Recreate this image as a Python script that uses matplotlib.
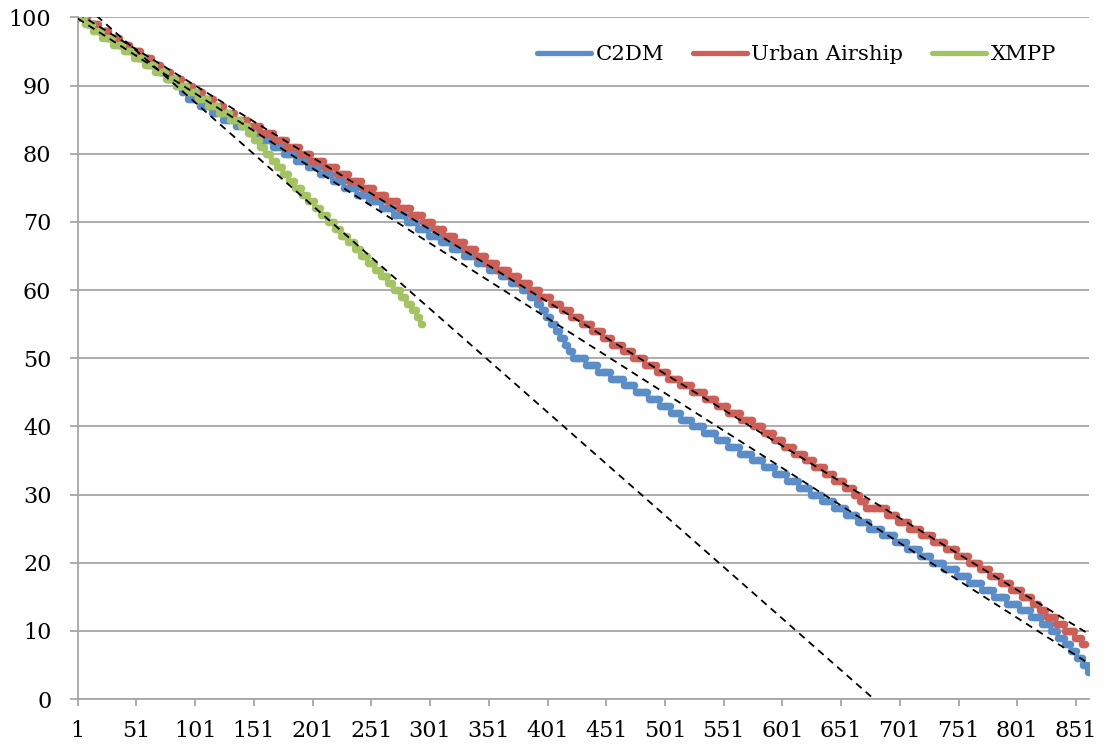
import numpy as np
import matplotlib.pyplot as plt
from matplotlib.lines import Line2D

plt.rcParams['font.family'] = ['DejaVu Serif', 'Liberation Serif']

# index (1-based sample) at which each battery level starts: 100, 99, 98, ...
c2dm_start = [1, 9, 18, 27, 36, 45, 53, 62, 70, 78,
              85, 90, 95, 105, 115, 125, 136, 147, 157, 167,
              177, 187, 197, 207, 218, 228, 239, 249, 260, 270,
              281, 291, 300, 310, 320, 330, 341, 351, 361, 370,
              379, 386, 392, 396, 400, 404, 408, 412, 416, 419,
              423, 434, 444, 455, 466, 476, 487, 497, 506, 515,
              524, 534, 545, 555, 565, 575, 585, 595, 605, 615,
              625, 635, 645, 655, 665, 675, 686, 697, 707, 718,
              728, 739, 750, 760, 771, 781, 792, 803, 813, 822,
              830, 836, 842, 847, 852, 857, 861]
c2dm_last = 862

urban_start = [1, 10, 19, 28, 37, 46, 55, 64, 72, 81,
               90, 99, 108, 117, 126, 135, 146, 157, 168, 179,
               190, 200, 211, 222, 232, 243, 253, 264, 274, 285,
               295, 304, 313, 322, 331, 340, 349, 358, 368, 377,
               386, 395, 404, 413, 421, 430, 439, 448, 456, 465,
               474, 484, 494, 504, 514, 524, 535, 545, 555, 566,
               576, 585, 594, 602, 611, 620, 628, 637, 645, 654,
               662, 667, 672, 690, 699, 709, 719, 729, 740, 750,
               760, 769, 778, 787, 796, 805, 814, 820, 826, 834,
               842, 850, 856]
urban_last = 859

xmpp_start = [1, 7, 14, 22, 31, 40, 49, 58, 67, 76,
              85, 94, 103, 112, 121, 131, 140, 146, 151, 156,
              161, 166, 171, 176, 181, 186, 192, 197, 203, 208,
              214, 220, 225, 231, 237, 242, 248, 254, 259, 265,
              270, 276, 281, 286, 290, 293]
xmpp_last = 294

names = ['C2DM', 'Urban Airship', 'XMPP']
colors = ['#5b8dc8', '#cd5f57', '#a4c362']


def expand(starts, last, top=100):
    x = np.arange(1, last + 1)
    y = top - (np.searchsorted(starts, x, side='right') - 1)
    return x, y


series = [expand(c2dm_start, c2dm_last),
          expand(urban_start, urban_last),
          expand(xmpp_start, xmpp_last)]

fig = plt.figure(figsize=(11.07, 7.46), dpi=100)
ax = fig.add_axes([0.0702, 0.063, 0.9135, 0.9137])

for (x, y), c in zip(series, colors):
    ax.plot(x, y, color=c, lw=3.4, marker='o', ms=5.4, mew=0,
            solid_joinstyle='round', solid_capstyle='round', zorder=3)

# linear trend lines (like Excel), over the full axis
xs = np.array([1, 862])
for x, y in series:
    k, b = np.polyfit(x, y, 1)
    ax.plot(xs, k * xs + b, color='black', lw=1.3, ls=(0, (4, 3)), zorder=4)

ax.set_xlim(1, 862)
ax.set_ylim(0, 100)
ax.set_yticks(np.arange(0, 101, 10))
ax.set_xticks(np.arange(1, 852, 50))
ax.yaxis.grid(True, color='#a6a6a6', lw=1.3)
ax.set_axisbelow(True)
for s in ['top', 'right']:
    ax.spines[s].set_visible(False)
for s in ['left', 'bottom']:
    ax.spines[s].set_color('#a6a6a6')
    ax.spines[s].set_linewidth(1.3)
ax.tick_params(axis='y', length=6, width=1.3, color='#a6a6a6', labelsize=16, pad=13)
ax.tick_params(axis='x', length=5, width=1.3, color='#a6a6a6', labelsize=16, pad=10)

handles = [Line2D([], [], color=c, lw=3.8, solid_capstyle='round') for c in colors]
ax.legend(handles, names, loc='upper left', ncol=3, frameon=False,
          fontsize=15.3, handlelength=2.55, columnspacing=1.35,
          borderaxespad=0, bbox_to_anchor=(0.446, 0.972), handletextpad=0.2)

plt.savefig('out.png')
